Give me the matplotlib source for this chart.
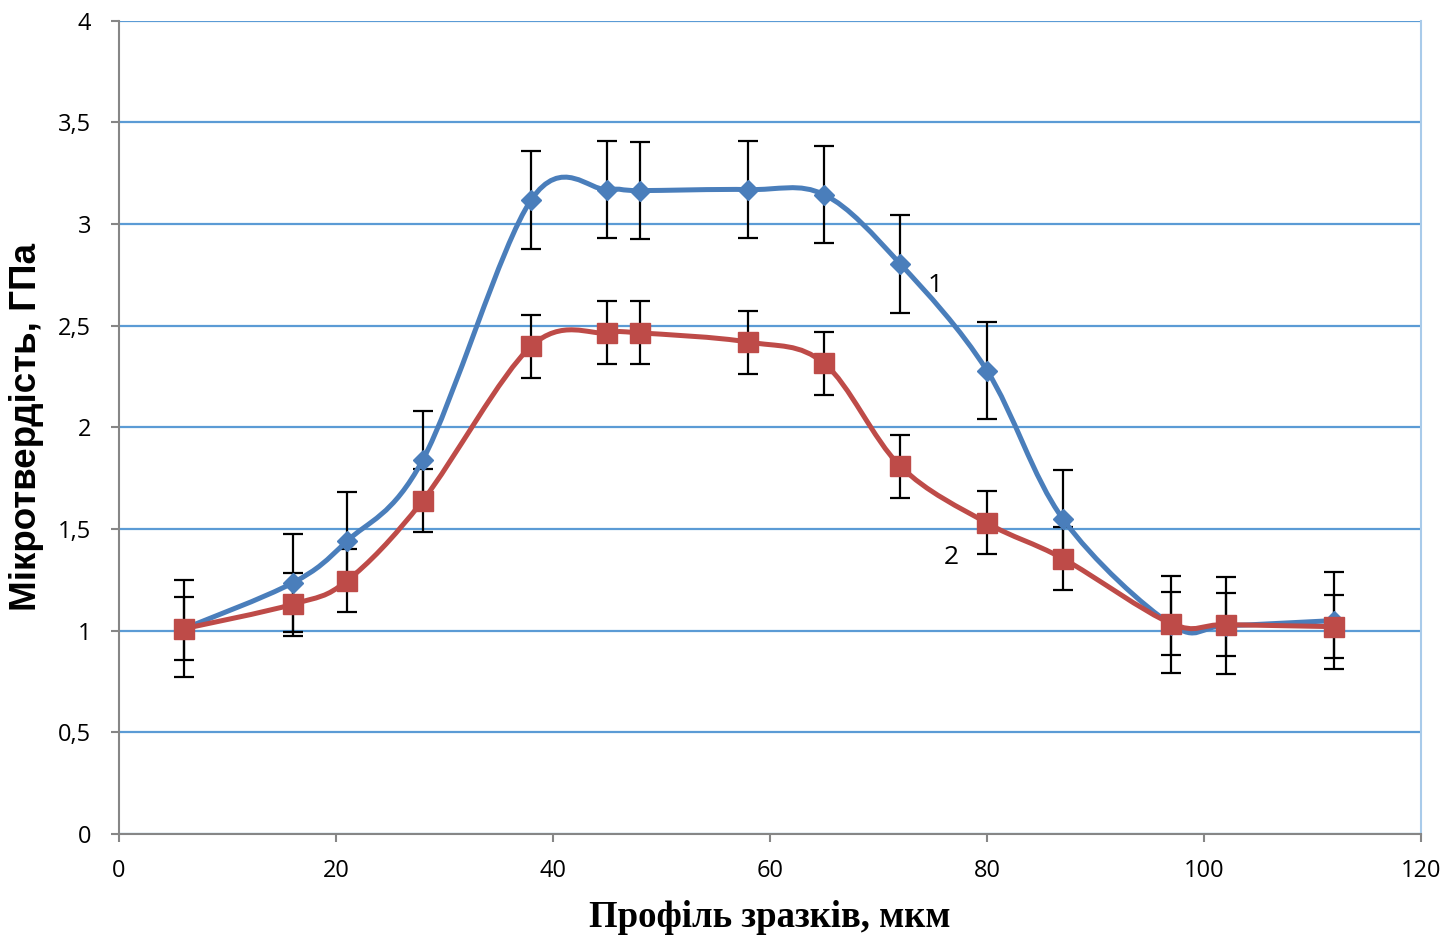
import numpy as np
import matplotlib.pyplot as plt
from matplotlib.path import Path
from matplotlib.patches import PathPatch
from matplotlib.ticker import FuncFormatter, MultipleLocator

# профіль зразків, мкм
x = [6, 16, 21, 28, 38, 45, 48, 58, 65, 72, 80, 87, 97, 102, 112]
# крива 1
hv1 = [1.01, 1.235, 1.44, 1.84, 3.12, 3.17, 3.165, 3.17, 3.145, 2.805, 2.28, 1.55, 1.03, 1.025, 1.05]
err1 = [0.24] * len(x)
# крива 2
hv2 = [1.01, 1.13, 1.245, 1.64, 2.40, 2.465, 2.465, 2.42, 2.315, 1.81, 1.53, 1.355, 1.035, 1.03, 1.02]
err2 = [0.155] * len(x)

BLUE = '#4A7EBB'
RED = '#BE4B48'


def smooth_path(xs, ys):
    # excel-style smoothed line (catmull-rom -> cubic bezier)
    p = np.column_stack([xs, ys]).astype(float)
    n = len(p)
    verts = [p[0]]
    codes = [Path.MOVETO]
    for i in range(n - 1):
        p0 = p[i - 1] if i > 0 else p[i]
        p3 = p[i + 2] if i + 2 < n else p[i + 1]
        c1 = p[i] + (p[i + 1] - p0) / 6
        c2 = p[i + 1] - (p3 - p[i]) / 6
        verts += [c1, c2, p[i + 1]]
        codes += [Path.CURVE4] * 3
    return Path(verts, codes)


fig = plt.figure(figsize=(14.47, 9.35), dpi=100)
ax = fig.add_axes([0.0822, 0.108, 0.8998, 0.8697])

ax.set_xlim(0, 120)
ax.set_ylim(0, 4)
ax.xaxis.set_major_locator(MultipleLocator(20))
ax.yaxis.set_major_locator(MultipleLocator(0.5))
ax.yaxis.set_major_formatter(FuncFormatter(lambda v, _: f'{v:g}'.replace('.', ',')))

ax.grid(axis='y', color='#5B9BD5', lw=1.6, zorder=0)
ax.set_axisbelow(True)
for s in ['left', 'bottom']:
    ax.spines[s].set_color('#868686')
    ax.spines[s].set_linewidth(1.5)
ax.spines['top'].set_visible(False)
ax.spines['right'].set_color('#A9CBEA')
ax.spines['right'].set_linewidth(1.5)
ax.tick_params(direction='out', length=6, width=1.5, color='#868686', labelsize=17)
ax.tick_params(axis='y', pad=14)
ax.tick_params(axis='x', pad=12)
for lab in ax.get_xticklabels() + ax.get_yticklabels():
    lab.set_fontfamily('Open Sans')

for ys, err in [(hv1, err1), (hv2, err2)]:
    ax.errorbar(x, ys, yerr=err, fmt='none', ecolor='black', elinewidth=1.6,
                capsize=7, capthick=1.6, zorder=2)
for ys, col, mk, ms in [(hv1, BLUE, 'D', 10), (hv2, RED, 's', 14)]:
    ax.add_patch(PathPatch(smooth_path(x, ys), fill=False, edgecolor=col,
                           lw=3.6, capstyle='round', joinstyle='round', zorder=3))
    ax.plot(x, ys, ls='none', marker=mk, ms=ms, color=col, mec=col, zorder=4)

ax.text(75.2, 2.70, '1', fontsize=19, fontfamily='Open Sans', ha='center', va='center')
ax.text(76.7, 1.36, '2', fontsize=19, fontfamily='Open Sans', ha='center', va='center')

ax.set_xlabel('Профіль зразків, мкм', fontfamily='Liberation Serif',
              fontweight='bold', fontsize=26.5, labelpad=12)
ax.set_ylabel('Мікротвердість, ГПа', fontfamily='Liberation Sans',
              fontweight='bold', fontsize=26.5, labelpad=10)

fig.savefig('out.png', dpi=100)
